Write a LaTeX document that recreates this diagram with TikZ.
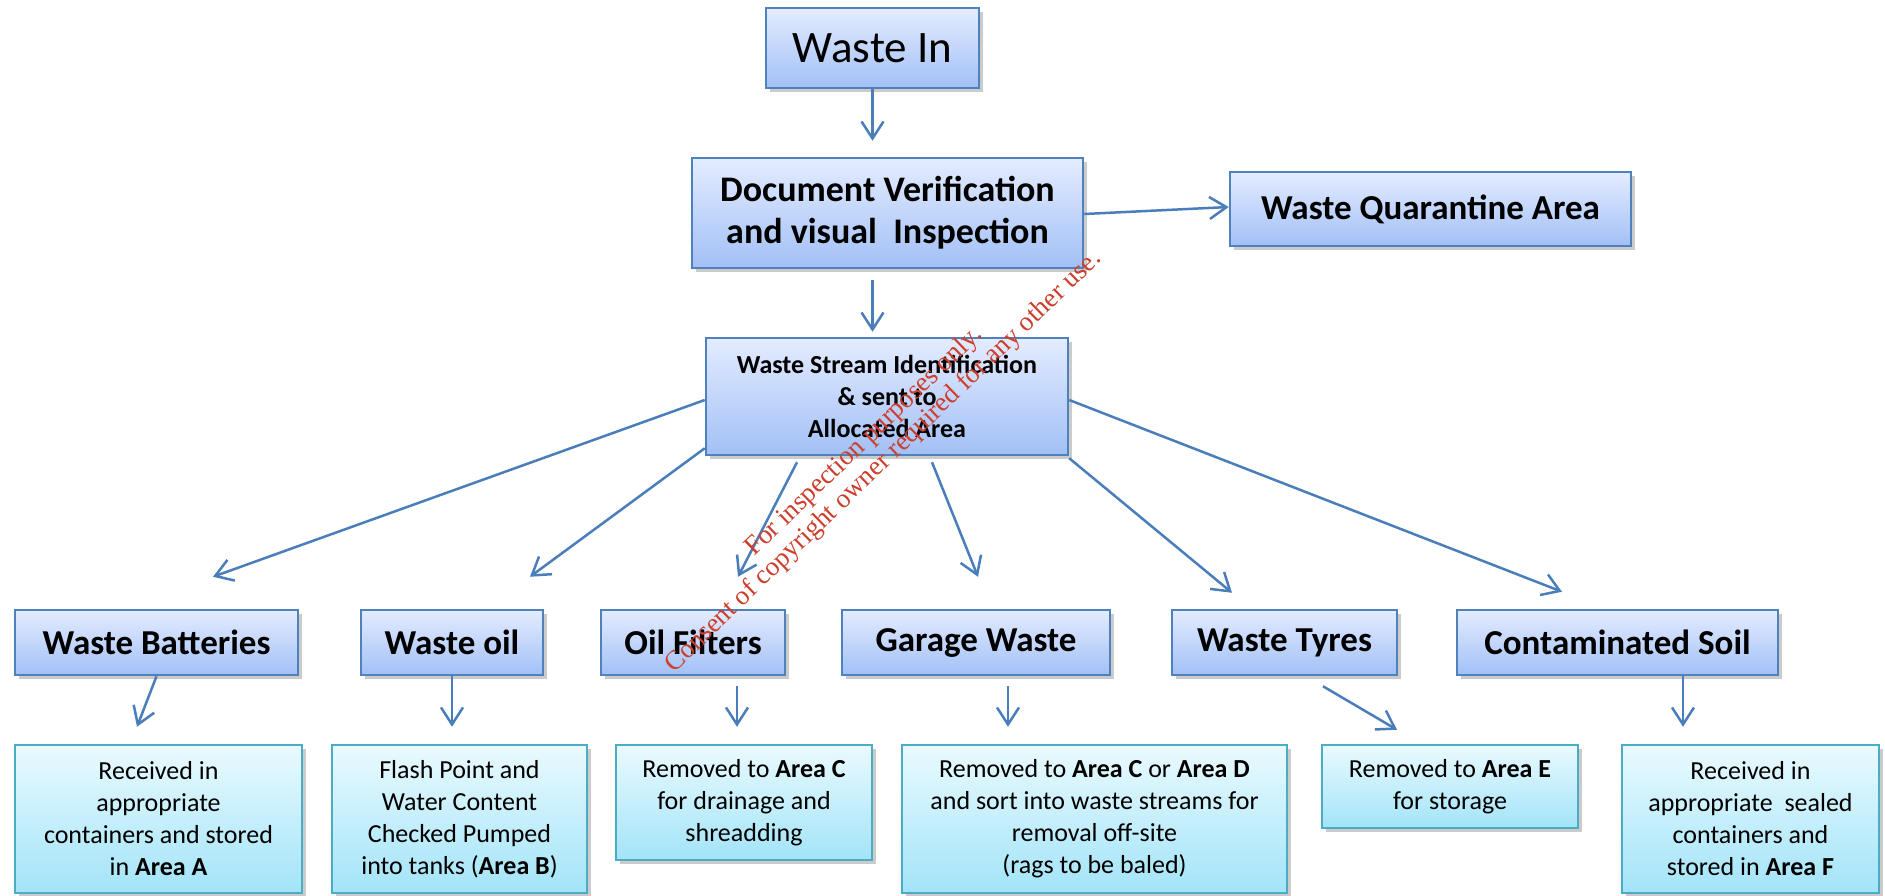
\documentclass[tikz,border=0pt]{standalone}
\usepackage{fontspec}
\setmainfont{Carlito}
\newfontfamily\stampfont{Liberation Serif}
\usepackage{xcolor}
\usepackage{tikz}
\usetikzlibrary{arrows.meta, shadows}

\definecolor{stepblue}{RGB}{79,129,189}
\definecolor{steptop}{RGB}{228,236,255}
\definecolor{stepbot}{RGB}{162,192,246}
\definecolor{areacyan}{RGB}{75,172,198}
\definecolor{areatop}{RGB}{234,250,254}
\definecolor{areabot}{RGB}{162,228,248}
\definecolor{flowblue}{RGB}{74,126,187}
\definecolor{stampred}{RGB}{205,62,45}

\tikzset{
  boxshadow/.style={drop shadow={shadow xshift=4pt, shadow yshift=-4pt, fill=black!45, opacity=0.45}},
  stepbox/.style={draw=stepblue, line width=2.5pt, top color=steptop, bottom color=stepbot,
    inner sep=0pt, align=center, boxshadow},
  areabox/.style={draw=areacyan, line width=2.5pt, top color=areatop, bottom color=areabot,
    inner sep=0pt, align=center, boxshadow, font=\fontsize{26}{32}\selectfont},
  catbox/.style={stepbox, minimum height=65pt, font=\bfseries\fontsize{35}{42}\selectfont},
  flow/.style={draw=flowblue, line width=2.5pt, -{Straight Barb[length=17pt,width=22pt]}},
}

\begin{document}
\begin{tikzpicture}[x=1pt, y=-1pt]
    \path[use as bounding box, fill=white] (0,0) rectangle (1885,895);

    % Ingresso e verifica
    \node[stepbox, minimum width=213pt, minimum height=80pt, font=\fontsize{45}{54}\selectfont]
        (in) at (872.5,48) {Waste In};
    \node[stepbox, minimum width=391pt, minimum height=110pt, font=\bfseries\fontsize{36}{42}\selectfont]
        (dv) at (887.5,213) {Document Verification\\and visual\ \ Inspection};
    \node[stepbox, minimum width=401pt, minimum height=74pt, font=\bfseries\fontsize{35}{42}\selectfont]
        (quar) at (1430.5,209) {Waste Quarantine Area};
    \node[stepbox, minimum width=362pt, minimum height=117pt, font=\bfseries\fontsize{26}{32}\selectfont]
        (ws) at (887,396.5) {Waste Stream Identification\\\& sent to\\Allocated Area};

    % Categorie
    \node[catbox, minimum width=283pt] (bat) at (156.5,642.5) {Waste Batteries};
    \node[catbox, minimum width=182pt] (oil) at (452,642.5) {Waste oil};
    \node[catbox, minimum width=184pt] (fil) at (693,642.5) {Oil Filters};
    \node[catbox, minimum width=268pt] (gar) at (976,642.5) {Garage Waste};
    \node[catbox, minimum width=225pt] (tyr) at (1284.5,642.5) {Waste Tyres};
    \node[catbox, minimum width=321pt] (soil) at (1617.5,642.5) {Contaminated Soil};

    % Aree di destinazione
    \node[areabox, minimum width=287pt, minimum height=148pt] (ara) at (158.5,819)
        {Received in\\appropriate\\containers and stored\\in \textbf{Area A}};
    \node[areabox, minimum width=255pt, minimum height=148pt] (arb) at (459.5,819)
        {Flash Point and\\Water Content\\Checked Pumped\\into tanks (\textbf{Area B})};
    \node[areabox, minimum width=256pt, minimum height=115pt] (arc) at (744,802.5)
        {Removed to \textbf{Area C}\\for drainage and\\shreadding};
    \node[areabox, minimum width=385pt, minimum height=148pt] (ard) at (1094.5,819)
        {Removed to \textbf{Area C} or \textbf{Area D}\\and sort into waste streams for\\removal off-site\\(rags to be baled)};
    \node[areabox, minimum width=256pt, minimum height=83pt] (are) at (1450,786.5)
        {Removed to \textbf{Area E}\\for storage};
    \node[areabox, minimum width=257pt, minimum height=148pt] (arf) at (1750.5,819)
        {Received in\\appropriate\ \ sealed\\containers and\\stored in \textbf{Area F}};

    % Frecce
    \draw[flow, shorten >=16pt] (in.south) -- (in.south |- dv.north);
    \draw[flow] ([yshift=-1pt]dv.east) -- ([yshift=2pt]quar.west);
    \draw[flow, shorten <=11pt, shorten >=5pt] (dv.south -| in.south) -- (ws.north -| in.south);

    \draw[flow] ([yshift=-3.5pt]ws.west) -- ([xshift=56.5pt,yshift=32pt]bat.north);
    \draw[flow] ([yshift=8pt]ws.south west) -- ([xshift=78pt,yshift=32pt]oil.north);
    \draw[flow] ([xshift=-90pt,yshift=-6pt]ws.south) -- ([xshift=45pt,yshift=32pt]fil.north);
    \draw[flow] ([xshift=45pt,yshift=-6pt]ws.south) -- ([xshift=2pt,yshift=32pt]gar.north);
    \draw[flow] ([yshift=-2pt]ws.south east) -- ([xshift=-52.5pt,yshift=16pt]tyr.north);
    \draw[flow] ([yshift=-3.5pt]ws.east) -- ([xshift=-55.5pt,yshift=17pt]soil.north);

    \draw[flow] (bat.south) -- ([xshift=-21.5pt,yshift=17pt]ara.north);
    \draw[flow, shorten >=17pt] (oil.south) -- (oil.south |- arb.north);
    \draw[flow] ([xshift=44pt,yshift=-10pt]fil.south) -- ([xshift=-7pt,yshift=17pt]arc.north);
    \draw[flow] ([xshift=32pt,yshift=-10pt]gar.south) -- ([xshift=-86.5pt,yshift=17pt]ard.north);
    \draw[flow] ([xshift=38.5pt,yshift=-10pt]tyr.south) -- ([xshift=-53pt,yshift=14pt]are.north);
    \draw[flow] ([xshift=65.5pt]soil.south) -- ([xshift=-67.5pt,yshift=17pt]arf.north);

    % Timbro
    \node[rotate=44, text=stampred, align=center, font=\stampfont\fontsize{27}{28}\selectfont]
        (stamp) at (874,452) {For inspection purposes only.\\Consent of copyright owner required for any other use.};
\end{tikzpicture}
\end{document}
